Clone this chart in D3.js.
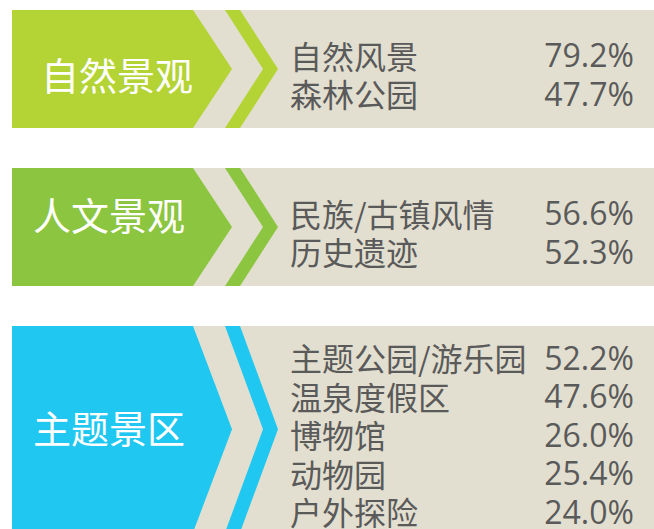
<!DOCTYPE html>
<html>
<head>
<meta charset="utf-8">
<script src="https://cdn.jsdelivr.net/npm/d3@7"></script>
<style>
  html, body { margin: 0; padding: 0; background: #fff; }
  svg { display: block; }
</style>
</head>
<body>
<div class="chart"></div>
<script>
// group titles and their items
const groupNames = ["自然景观", "人文景观", "主题景区"];
const groupColors = ["#b4d334", "#8cc540", "#20c8f1"];

const itemGroups = [0, 0, 1, 1, 2, 2, 2, 2, 2];
const itemNames = [
  "自然风景", "森林公园",
  "民族/古镇风情", "历史遗迹",
  "主题公园/游乐园", "温泉度假区", "博物馆", "动物园", "户外探险"
];
const itemValues = [79.2, 47.7, 56.6, 52.3, 52.2, 47.6, 26.0, 25.4, 24.0];

const renderPanels = (containerId) => {
  const svgWidth = 654;
  const svgHeight = 529;
  const left = 12;
  const rowH = 38.5;
  const minPanelH = 118;
  const panelGap = 40;
  // small nudges for the white titles
  const labelDx = [117, 109, 109];
  const labelDy = [4, -14, -3];

  d3.select(`.${containerId}`).selectAll("*").remove();
  const svg = d3.select(`.${containerId}`)
    .append("svg")
    .attr("width", svgWidth)
    .attr("height", svgHeight);

  // panel layout from item counts
  const counts = groupNames.map((g, i) => itemGroups.filter(k => k === i).length);
  let top = 10;
  const panels = groupNames.map((name, i) => {
    const h = Math.max(minPanelH, counts[i] * rowH + 14);
    const p = { name, i, top, h, color: groupColors[i] };
    top += h + panelGap;
    return p;
  });

  const fmt = d => d3.format(".1f")(d) + "%";

  const g = svg.selectAll(".panel")
    .data(panels)
    .enter().append("g")
    .attr("class", "panel")
    .attr("transform", d => `translate(0,${d.top})`);

  // beige background
  g.append("rect")
    .attr("x", left)
    .attr("width", svgWidth - left)
    .attr("height", d => d.h)
    .attr("fill", "#e2dfd0");

  // coloured arrow block
  g.append("path")
    .attr("fill", d => d.color)
    .attr("d", d => {
      const m = d.h / 2;
      return `M${left},0 L193,0 L232,${m} L193,${d.h} L${left},${d.h} Z`;
    });

  // chevron stripe
  g.append("path")
    .attr("fill", d => d.color)
    .attr("d", d => {
      const m = d.h / 2;
      return `M225,0 L240,0 L278,${m} L240,${d.h} L225,${d.h} L263,${m} Z`;
    });

  // white title
  g.append("text")
    .attr("x", d => labelDx[d.i])
    .attr("y", d => d.h / 2 + labelDy[d.i])
    .attr("text-anchor", "middle")
    .attr("dominant-baseline", "central")
    .attr("fill", "#ffffff")
    .attr("font-family", "'Noto Sans CJK SC', sans-serif")
    .attr("font-size", 38)
    .text(d => d.name);

  // item rows
  g.each(function(p) {
    const rows = itemNames
      .map((name, k) => ({ name, value: itemValues[k], grp: itemGroups[k] }))
      .filter(r => r.grp === p.i);
    const n = rows.length;
    const start = (p.h - (n - 1) * rowH) / 2 + 5;
    const y = d3.scaleLinear()
      .domain([0, Math.max(1, n - 1)])
      .range([start, start + Math.max(1, n - 1) * rowH]);

    const sel = d3.select(this);
    sel.selectAll(".name")
      .data(rows)
      .enter().append("text")
      .attr("class", "name")
      .attr("x", 290)
      .attr("y", (d, k) => y(k))
      .attr("dominant-baseline", "central")
      .attr("fill", "#5a5a5a")
      .attr("font-family", "'Noto Sans CJK SC', sans-serif")
      .attr("font-size", 32)
      .text(d => d.name);

    sel.selectAll(".value")
      .data(rows)
      .enter().append("text")
      .attr("class", "value")
      .attr("x", 634)
      .attr("y", (d, k) => y(k))
      .attr("text-anchor", "end")
      .attr("dominant-baseline", "central")
      .attr("fill", "#5a5a5a")
      .attr("font-family", "'Open Sans', sans-serif")
      .attr("font-size", 32)
      .text(d => fmt(d.value));
  });
};

renderPanels("chart");
</script>
</body>
</html>
